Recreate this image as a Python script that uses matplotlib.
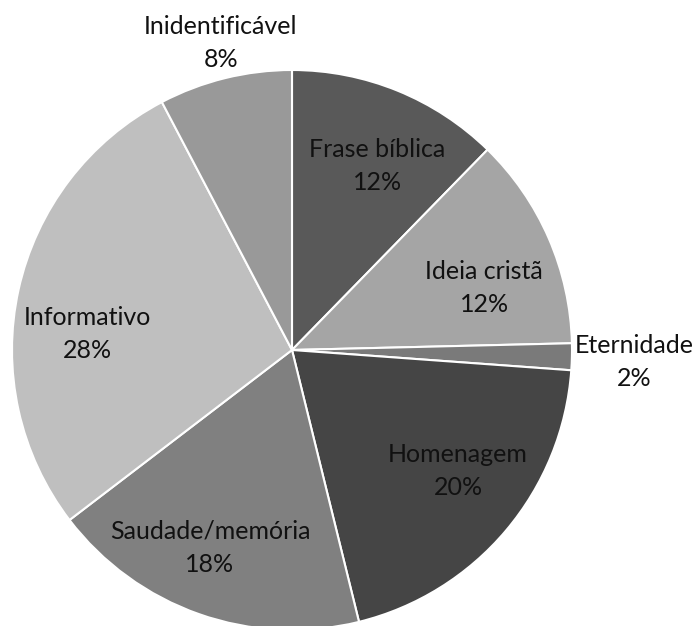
import numpy as np
import matplotlib
matplotlib.use("Agg")
import matplotlib.pyplot as plt

# Dados do gráfico (contagens; os rótulos mostram o percentual arredondado)
categorias = ["Frase bíblica", "Ideia cristã", "Eternidade", "Homenagem",
              "Saudade/memória", "Informativo", "Inidentificável"]
contagens = [8, 8, 1, 13, 12, 18, 5]
cores = ["#595959", "#a5a5a5", "#7a7a7a", "#454545",
         "#808080", "#bfbfbf", "#999999"]

# posição dos rótulos, em frações do raio a partir do centro
pos_rotulo = [(0.304, 0.657), (0.686, 0.221), (1.221, -0.043), (0.593, -0.432),
              (-0.293, -0.707), (-0.729, 0.057), (-0.254, 1.096)]

plt.rcParams['font.family'] = ['Lato', 'DejaVu Sans']

W, H = 696, 626
fig = plt.figure(figsize=(W / 100, H / 100), dpi=100)
cx, cy, r = 292, 350, 280
ax = fig.add_axes([(cx - r) / W, (H - cy - r) / H, 2 * r / W, 2 * r / H])

wedges, _ = ax.pie(contagens, colors=cores, startangle=90, counterclock=False,
                   wedgeprops=dict(edgecolor="white", linewidth=1.5))
ax.set_xlim(-1, 1)
ax.set_ylim(-1, 1)
ax.set_aspect("equal")

total = sum(contagens)
for cat, n, (x, y) in zip(categorias, contagens, pos_rotulo):
    pct = round(100 * n / total)
    ax.text(x, y, f"{cat}\n{pct}%", ha="center", va="center", fontsize=18,
            linespacing=1.55, color="#111111", clip_on=False)

fig.savefig("out.png", dpi=100, facecolor="white")
